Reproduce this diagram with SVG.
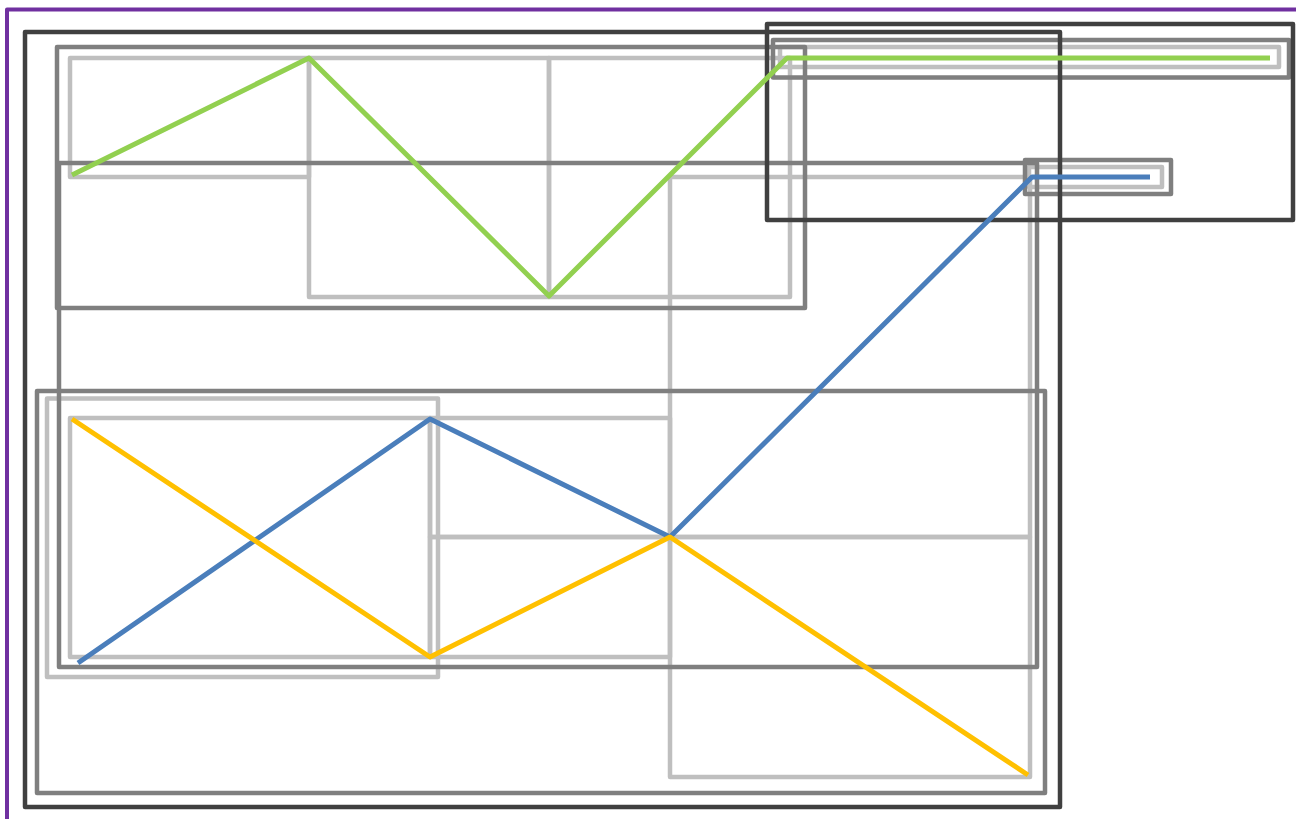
<svg xmlns="http://www.w3.org/2000/svg" width="1296" height="819" viewBox="0 0 1296 819">
<style>
.n{fill:none;stroke-linejoin:round}
.p{stroke:#7030a0;stroke-width:4}
.d{stroke:#404040;stroke-width:4.5}
.g{stroke:#7f7f7f;stroke-width:4.5}
.l{stroke:#bfbfbf;stroke-width:4.5}
.c{fill:none;stroke-width:5;stroke-linejoin:round;stroke-linecap:butt}
.gr{stroke:#92d050}
.bl{stroke:#4a7ebb}
.or{stroke:#ffc000}
</style>
<rect width="1296" height="819" fill="#ffffff"/>
<g id="frame"><rect class="n p" x="7" y="9.5" width="1400" height="900"/></g>
<g id="light-cells">
<g id="lg1"><rect class="n l" x="70" y="58" width="239" height="119"/></g>
<g id="lg2"><rect class="n l" x="309" y="58" width="240" height="239"/></g>
<g id="lg3"><rect class="n l" x="549" y="58" width="241" height="239"/></g>
<g id="lg4"><rect class="n l" x="780" y="47" width="499" height="20"/></g>
<g id="lg5"><rect class="n l" x="1029" y="167" width="133" height="20"/></g>
<g id="lg6"><rect class="n l" x="670" y="177" width="360" height="360"/></g>
<g id="lg7"><rect class="n l" x="670" y="537" width="360" height="240"/></g>
<g id="lg8"><rect class="n l" x="47" y="398.5" width="391" height="278.5"/></g>
<g id="lg9"><rect class="n l" x="70" y="418" width="360" height="239"/></g>
<g id="lg10"><rect class="n l" x="430" y="418" width="240" height="119"/></g>
<g id="lg11"><rect class="n l" x="430" y="537" width="240" height="120"/></g>
</g>
<g id="gray-groups">
<g id="g1"><rect class="n g" x="57" y="47" width="748" height="261"/></g>
<g id="g2"><rect class="n g" x="59" y="163" width="978" height="504"/></g>
<g id="g3"><rect class="n g" x="37" y="391" width="1008" height="402"/></g>
<g id="g4"><rect class="n g" x="773" y="40" width="516" height="37.5"/></g>
<g id="g5"><rect class="n g" x="1025" y="160" width="146" height="34"/></g>
</g>
<g id="dark-groups">
<g id="d1"><rect class="n d" x="25" y="32" width="1035" height="775"/></g>
<g id="d2"><rect class="n d" x="767" y="24" width="526" height="196"/></g>
</g>
<g id="connectors">
<polyline class="c gr" points="72,175 309,58 549,296 787,58 1270,58"/>
<polyline class="c bl" points="78,663 430,419 670,537 1032,177 1150,177"/>
<polyline class="c or" points="72,419 430,657 670,537 1028,775"/>
</g>
</svg>
